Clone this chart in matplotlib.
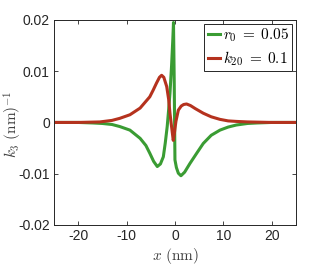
import matplotlib
matplotlib.use("Agg")
import matplotlib.pyplot as plt

plt.rcParams['font.family'] = ['Liberation Sans', 'DejaVu Sans']
plt.rcParams['mathtext.fontset'] = 'cm'

# Green curve (r0 = 0.05)
x_green = [-25, -20, -17, -15, -13, -11.4, -9.3, -7.2, -6, -5.2, -4.4, -3.65, -3, -2.4, -2, -1.6,
           -1.3, -1.03, -0.7, -0.45, -0.3, -0.15, 0, 0.3, 0.7, 1.24, 2, 3.1, 4.5, 5.85, 7.5, 9.3,
           11, 12.7, 15, 17, 20, 25]
y_green = [0, 0, -0.0001, -0.0002, -0.0004, -0.0008, -0.0015, -0.0031, -0.0045, -0.006, -0.0076,
           -0.0086, -0.0081, -0.0067, -0.004, -0.0008, 0.0025, 0.0057, 0.011, 0.016, 0.0195, 0.008,
           -0.0073, -0.0088, -0.0099, -0.0104, -0.0097, -0.008, -0.006, -0.0041, -0.0025, -0.0015,
           -0.0009, -0.0005, -0.0002, -0.0001, 0, 0]

# Red curve (k20 = 0.1)
x_red = [-25, -20, -15.5, -13, -11.4, -9.3, -7.2, -5.2, -4.5, -3.8, -3.2, -2.75, -2.3, -1.7, -1.3,
         -1.03, -0.7, -0.35, -0.1, 0.2, 0.7, 1.3, 1.8, 2.4, 3.2, 4.2, 5.85, 7.5, 9.3, 11, 12.7, 15,
         20, 25]
y_red = [0, 0, 0.0001, 0.0004, 0.0008, 0.0015, 0.0028, 0.005, 0.0063, 0.0077, 0.0088, 0.0092,
         0.0088, 0.007, 0.0045, 0.0018, -0.0008, -0.0035, -0.002, 0.0002, 0.0024, 0.0032, 0.0035,
         0.0036, 0.0033, 0.0027, 0.0018, 0.0011, 0.0006, 0.0003, 0.0002, 0.0001, 0, 0]

labels = [r'$r_0 \;=\; 0.05$', r'$k_{20} \;=\; 0.1$']
xticks = [-20, -10, 0, 10, 20]
yticks = [-0.02, -0.01, 0, 0.01, 0.02]
yticklabels = ['-0.02', '-0.01', '0', '0.01', '0.02']
xticklabels = ['-20', '-10', '0', '10', '20']

fig = plt.figure(figsize=(3.27, 2.73), dpi=100)
ax = fig.add_axes([0.165, 0.176, 0.74, 0.751])

ax.plot(x_green, y_green, color='#3a9c33', lw=2.2, label=labels[0], solid_joinstyle='round')
ax.plot(x_red, y_red, color='#b5321e', lw=2.2, label=labels[1], solid_joinstyle='round')

ax.set_xlim(-25, 25)
ax.set_ylim(-0.02, 0.02)
ax.set_xticks(xticks)
ax.set_xticklabels(xticklabels)
ax.set_yticks(yticks)
ax.set_yticklabels(yticklabels)
ax.tick_params(direction='in', top=True, right=True, length=3, width=0.6,
               labelsize=10, colors='#262626', pad=3)
for s in ax.spines.values():
    s.set_linewidth(0.7)
    s.set_color('#262626')

ax.set_xlabel(r'$x\ (\mathrm{nm})$', fontsize=11, color='#404040', labelpad=2)
fig.text(0.04, 0.545, r'$k_3\ (\mathrm{nm})^{-1}$', fontsize=11, color='#404040',
         rotation=90, ha='center', va='center')

leg = ax.legend(loc='upper right', fontsize=11, handlelength=0.8, handletextpad=0.2,
                borderpad=0.2, labelspacing=0.3, borderaxespad=0.25, fancybox=False,
                framealpha=1)
leg.get_frame().set_edgecolor('#262626')
leg.get_frame().set_linewidth(0.7)

fig.savefig('out.png', dpi=100)
